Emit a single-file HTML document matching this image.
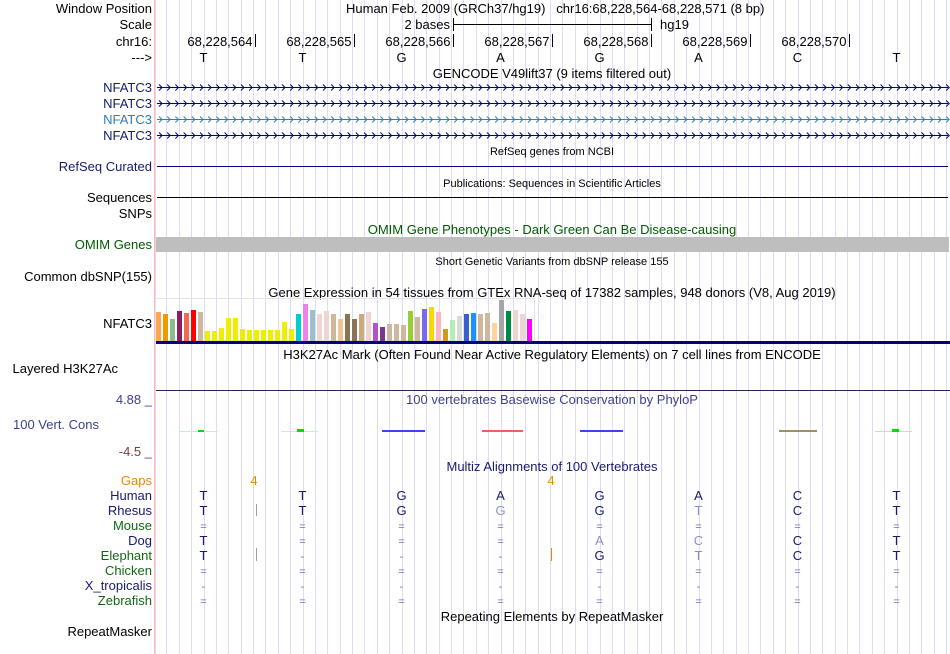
<!DOCTYPE html>
<html><head><meta charset="utf-8"><style>
html,body{margin:0;padding:0;background:#fff;}
svg{display:block;font-family:"Liberation Sans",sans-serif;}
</style></head><body>
<svg id="c" width="950" height="654" viewBox="0 0 950 654" xmlns="http://www.w3.org/2000/svg">
<g id="grid"></g>
<line x1="155" y1="0" x2="155" y2="654" stroke="#FFA0A0" stroke-width="1"/>
<g font-size="13" text-anchor="end">
<text x="152" y="13" fill="#000">Window Position</text>
<text x="152" y="29" fill="#000">Scale</text>
<text x="152" y="46" fill="#000">chr16:</text>
<text x="152" y="62" fill="#000">---&gt;</text>
<text x="152" y="92" fill="#191970">NFATC3</text>
<text x="152" y="108" fill="#191970">NFATC3</text>
<text x="152" y="124" fill="#2A7FBF">NFATC3</text>
<text x="152" y="140" fill="#191970">NFATC3</text>
<text x="152" y="171" fill="#191970">RefSeq Curated</text>
<text x="152" y="202" fill="#000">Sequences</text>
<text x="152" y="218" fill="#000">SNPs</text>
<text x="152" y="249" fill="#005A00">OMIM Genes</text>
<text x="152" y="281" fill="#000">Common dbSNP(155)</text>
<text x="152" y="328" fill="#000">NFATC3</text>
<text x="118" y="373" fill="#000">Layered H3K27Ac</text>
<text x="152" y="404" fill="#40408F">4.88 _</text>
<text x="99" y="429" fill="#40408F">100 Vert. Cons</text>
<text x="152" y="456" fill="#7F3F3F">-4.5 _</text>
<text x="152" y="485" fill="#E88A00">Gaps</text>
<text x="152" y="500" fill="#191970">Human</text>
<text x="152" y="515" fill="#191970">Rhesus</text>
<text x="152" y="530" fill="#126612">Mouse</text>
<text x="152" y="545" fill="#191970">Dog</text>
<text x="152" y="560" fill="#126612">Elephant</text>
<text x="152" y="575" fill="#126612">Chicken</text>
<text x="152" y="590" fill="#191970">X_tropicalis</text>
<text x="152" y="605" fill="#126612">Zebrafish</text>
<text x="152" y="636" fill="#000">RepeatMasker</text>
</g>
<g font-size="13">
<text x="346" y="13" fill="#000">Human Feb. 2009 (GRCh37/hg19)&#160;&#160;&#160;chr16:68,228,564-68,228,571 (8 bp)</text>
<text x="450" y="29" fill="#000" text-anchor="end">2 bases</text>
<text x="660" y="29" fill="#000">hg19</text>
<text x="552" y="78" fill="#000" text-anchor="middle">GENCODE V49lift37 (9 items filtered out)</text>
<text x="552" y="155" fill="#000" font-size="11" text-anchor="middle">RefSeq genes from NCBI</text>
<text x="552" y="187" fill="#000" font-size="11" text-anchor="middle">Publications: Sequences in Scientific Articles</text>
<text x="552" y="234" fill="#005A00" text-anchor="middle">OMIM Gene Phenotypes - Dark Green Can Be Disease-causing</text>
<text x="552" y="265" fill="#000" font-size="11" text-anchor="middle">Short Genetic Variants from dbSNP release 155</text>
<text x="552" y="297" fill="#000" text-anchor="middle">Gene Expression in 54 tissues from GTEx RNA-seq of 17382 samples, 948 donors (V8, Aug 2019)</text>
<text x="552" y="359" fill="#000" text-anchor="middle">H3K27Ac Mark (Often Found Near Active Regulatory Elements) on 7 cell lines from ENCODE</text>
<text x="552" y="404" fill="#40408F" text-anchor="middle">100 vertebrates Basewise Conservation by PhyloP</text>
<text x="552" y="471" fill="#191970" text-anchor="middle">Multiz Alignments of 100 Vertebrates</text>
<text x="552" y="621" fill="#000" text-anchor="middle">Repeating Elements by RepeatMasker</text>
</g>
<g stroke="#000" stroke-width="1">
<line x1="453.5" y1="24.5" x2="651.5" y2="24.5"/>
<line x1="453.5" y1="18" x2="453.5" y2="31"/>
<line x1="651.5" y1="18" x2="651.5" y2="31"/>
</g>
<g id="ruler"></g>
<g id="genes"></g>
<line x1="157" y1="166.5" x2="948" y2="166.5" stroke="#000080"/>
<line x1="157" y1="197.5" x2="948" y2="197.5" stroke="#000"/>
<rect x="156" y="237" width="793" height="15" fill="#BEBEBE"/>
<rect x="155.5" y="298.5" width="379" height="42" fill="none" stroke="#E4E4E4"/>
<g id="bars"></g>
<rect x="156" y="341" width="794" height="3" fill="#000080"/>
<line x1="156" y1="390.5" x2="950" y2="390.5" stroke="#302050"/>
<g id="cons"></g>
<g id="multiz" font-size="13" text-anchor="middle"></g>
</svg>
<script>
const tissueValues = [29,27,22,30,28,31,29,10,10,13,23,23,12,11,11,11,11,11,19,12,27,37,31,27,30,27,22,27,22,27,29,18,14,17,17,16,30,24,32,34,29,12,21,25,27,28,27,28,18,41,30,31,27,22];
const tissueColors = ['#FFA54F','#EE9A00','#8FBC8F','#8B1C62','#EE6A50','#FF0000','#CDB79E','#EEEE00','#EEEE00','#EEEE00','#EEEE00','#EEEE00','#EEEE00','#EEEE00','#EEEE00','#EEEE00','#EEEE00','#EEEE00','#EEEE00','#EEEE00','#00CED1','#EE82EE','#9AC0CD','#EED5D2','#EED5D2','#CDB79E','#EEC591','#8B7355','#8B7355','#CDAA7D','#EED5D2','#B452CD','#7A378B','#CDB79E','#CDB79E','#CDB79E','#9ACD32','#CDB79E','#7B68EE','#FFD700','#FFB6C1','#CD9B1D','#B4EEB4','#D9D9D9','#3A5FCD','#1E90FF','#CDB79E','#CDB79E','#FFD39B','#A6A6A6','#008B45','#EED5D2','#EED5D2','#FF00FF'];
const positions = ['68,228,564','68,228,565','68,228,566','68,228,567','68,228,568','68,228,569','68,228,570'];
const bases = ['T','T','G','A','G','A','C','T'];
const speciesRows = [
 ['T','T','G','A','G','A','C','T'],
 ['T','T','G','g','G','t','C','T'],
 ['=','=','=','=','=','=','=','='],
 ['T','=','=','=','a','c','C','T'],
 ['T','-','-','-','G','t','C','T'],
 ['=','=','=','=','=','=','=','='],
 ['-','-','-','-','-','-','-','-'],
 ['=','=','=','=','=','=','=','=']
];
const NS='http://www.w3.org/2000/svg';
function mk(tag,attrs,parent){const e=document.createElementNS(NS,tag);for(const k in attrs)e.setAttribute(k,attrs[k]);parent.appendChild(e);return e;}
const baseX = i => 203.5 + i*99;
// grid
const grid=document.getElementById('grid');
for(let x=203.5-12.375*4;x<950;x+=12.375){const l=mk('line',{x1:Math.round(x)+0.5,y1:0,x2:Math.round(x)+0.5,y2:654,stroke:'#DCDCF4'},grid);

}
// ruler
const ruler=document.getElementById('ruler');
positions.forEach((p,i)=>{const tx=255.5+i*99;
const t=mk('text',{x:tx-3,y:46,'font-size':13,'text-anchor':'end',fill:'#000'},ruler);t.textContent=p;


const l=mk('line',{x1:tx,y1:34,x2:tx,y2:47,stroke:'#000'},ruler);

});
bases.forEach((b,i)=>{const t=mk('text',{x:baseX(i),y:62,'font-size':13,'text-anchor':'middle',fill:'#000'},ruler);t.textContent=b;

});
// genes
const genes=document.getElementById('genes');
[[87,'#000080'],[103,'#000080'],[119,'#2A7FBF'],[135,'#000080']].forEach(([y,c])=>{
 let d=`M157 ${y+0.5}H948`;for(let x=159;x<948;x+=8.2){d+=`M${x.toFixed(1)} ${y-2.5}l3 3l-3 3`;}
 const p=mk('path',{d:d,stroke:c,fill:'none','stroke-width':1},genes);
 
 });
// bars
const bars=document.getElementById('bars');const base=341, yScale=v=>v*1.0;
tissueValues.forEach((v,i)=>{const h=yScale(v);const r=mk('rect',{x:156+i*7,y:base-h,width:5,height:h,fill:tissueColors[i]},bars);

});
// conservation
const cons=document.getElementById('cons');
[[180,218,'#C8F0C8',0],[198,204,'#00DD00',1],[281,318,'#C8F0C8',0],[297,304,'#00DD00',2],[382,425,'#4040FF',1],[482,523,'#F06060',1],[580,623,'#4040FF',1],[779,817,'#A09060',1],[875,912,'#B0F0B0',0],[892,899,'#00DD00',2]].forEach(([a,b,c,w])=>{
 const r=mk('rect',{x:a,y:431-w,width:b-a,height:w+1,fill:c},cons);
 
 });
// multiz
const mz=document.getElementById('multiz');
[[254,'4'],[551,'4']].forEach(([x,s])=>{const t=mk('text',{x:x,y:485,fill:'#E88A00'},mz);t.textContent=s;

});
speciesRows.forEach((row,r)=>{const y=500+r*15;
 row.forEach((b,i)=>{const light=b===b.toLowerCase()&&/[a-z]/.test(b);const dash=(b==='='||b==='-');
  const t=mk('text',{x:baseX(i),y:y,fill:light?'#9090C0':(dash?'#7070B0':'#191970'),'font-size':dash?11:13},mz);t.textContent=b.toUpperCase();
  
  });});
[[256,504,516,'#A0A0A0'],[256,548,561,'#A0A0A0'],[551,548,561,'#E88A00']].forEach(([x,a,b,c])=>{const l=mk('line',{x1:x+0.5,y1:a,x2:x+0.5,y2:b,stroke:c},mz);
 
 });
</script>
</body></html>
